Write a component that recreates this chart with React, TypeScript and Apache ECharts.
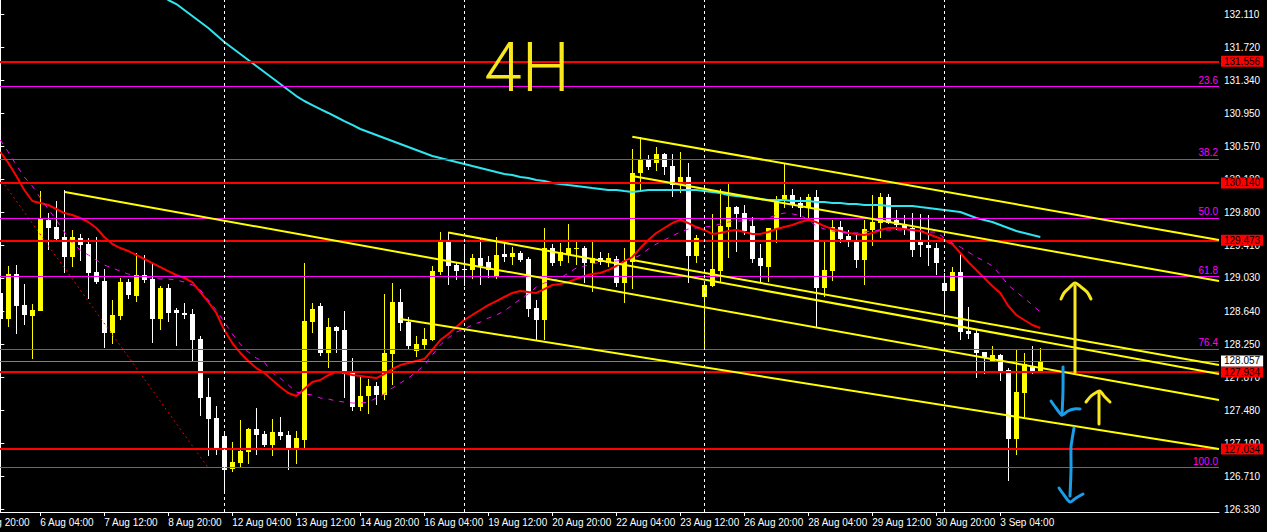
import React, { useEffect, useRef } from "react";
import * as echarts from "echarts";

// ---- candle data (H4 bars, index 0 = 5 Aug 08:00) ----
const opens = [
  128.857, 128.553, 129.075, 128.714, 128.585, 128.647, 129.707, 129.625, 129.508, 129.278,
  129.493, 129.426, 129.099, 128.993, 128.39, 128.588, 128.982, 128.822, 129.064, 129.017,
  128.553, 128.912, 128.655, 128.62, 128.608, 128.316, 127.638, 127.393, 127.183, 126.797,
  126.867, 126.999, 127.264, 127.206, 127.078, 127.226, 127.191, 127.019, 127.136, 128.518,
  128.702, 128.156, 128.453, 128.421, 127.927, 127.525, 127.65, 127.767, 127.662, 128.141,
  128.749, 128.515, 128.18, 128.246, 128.304, 129.102, 129.45, 129.18, 129.13, 129.122,
  129.262, 129.215, 129.052, 129.306, 129.278, 129.325, 129.251, 128.675, 128.538, 129.376,
  129.231, 129.298, 129.368, 129.376, 129.201, 129.259, 129.204, 129.247, 128.967, 129.219,
  130.259, 130.408, 130.376, 130.478, 130.338, 130.116, 130.206, 129.286, 128.81, 128.935,
  129.114, 129.628, 129.855, 129.785, 129.636, 129.262, 129.161, 129.605, 129.932, 129.999,
  129.902, 129.843, 129.972, 128.916, 129.114, 129.628, 129.52, 129.453, 129.239, 129.59,
  129.675, 129.972, 129.707, 129.66, 129.61, 129.473, 129.415, 129.376, 128.967, 128.88,
  129.095, 128.413, 128.39, 128.164, 128.059, 128.129, 127.954, 127.144, 127.689, 127.992,
  127.934,
];
const closes = [
  128.55, 129.075, 128.702, 128.597, 128.655, 129.718, 129.617, 129.485, 129.278, 129.508,
  129.415, 129.091, 128.985, 128.39, 128.597, 128.982, 128.827, 129.06, 129.009, 128.553,
  128.912, 128.624, 128.616, 128.6, 128.308, 127.63, 127.385, 127.034, 126.786, 126.883,
  127.007, 127.264, 127.194, 127.078, 127.226, 127.183, 127.034, 127.159, 128.526, 128.667,
  128.156, 128.453, 128.413, 127.907, 127.525, 127.65, 127.767, 127.662, 128.149, 128.749,
  128.507, 128.234, 128.258, 128.32, 129.11, 129.45, 129.169, 129.11, 129.122, 129.262,
  129.169, 129.122, 129.298, 129.271, 129.325, 129.239, 128.67, 128.538, 129.376, 129.201,
  129.329, 129.376, 129.379, 129.201, 129.259, 129.219, 129.262, 128.97, 129.227, 130.259,
  130.408, 130.329, 130.478, 130.329, 130.116, 130.206, 129.286, 129.493, 128.947, 129.13,
  129.636, 129.855, 129.777, 129.582, 129.254, 129.173, 129.613, 129.94, 129.999, 129.882,
  129.843, 129.979, 128.916, 129.122, 129.621, 129.485, 129.453, 129.239, 129.598, 129.687,
  129.972, 129.675, 129.648, 129.598, 129.356, 129.415, 129.376, 129.208, 128.88, 129.099,
  128.401, 128.374, 128.156, 128.098, 128.129, 127.946, 127.144, 127.7, 128.024, 127.915,
  128.057,
];
const highs = [
  129.005, 129.169, 129.18, 128.958, 128.725, 130.045, 129.788, 129.932, 130.057, 129.59,
  129.543, 129.5, 129.504, 129.13, 128.772, 129.032, 129.017, 129.317, 129.294, 129.189,
  128.935, 128.958, 128.678, 128.733, 128.67, 128.351, 127.86, 127.533, 127.241, 127.117,
  127.37, 127.28, 127.513, 127.241, 127.381, 127.401, 127.245, 127.245, 129.204, 128.737,
  128.733, 128.558, 128.468, 128.643, 128.094, 127.876, 127.845, 127.817, 128.842, 128.967,
  128.897, 128.57, 128.351, 128.441, 129.169, 129.566, 129.563, 129.208, 129.426, 129.309,
  129.493, 129.286, 129.512, 129.461, 129.388, 129.344, 129.271, 128.772, 129.61, 129.426,
  129.441, 129.66, 129.473, 129.403, 129.453, 129.336, 129.325, 129.286, 129.383, 130.536,
  130.68, 130.466, 130.563, 130.489, 130.478, 130.498, 130.369, 129.531, 128.982, 129.777,
  130.065, 130.142, 129.87, 129.882, 129.738, 129.426, 129.617, 129.987, 130.369, 130.065,
  129.979, 130.01, 130.057, 129.45, 129.707, 129.699, 129.59, 129.543, 129.707, 129.999,
  130.018, 130.01, 129.823, 129.765, 129.785, 129.777, 129.765, 129.434, 129.084, 129.161,
  129.309, 128.694, 128.429, 128.168, 128.234, 128.141, 127.974, 128.196, 128.149, 128.234,
  128.208,
];
const lows = [
  128.153, 128.46, 128.374, 128.48, 128.083, 128.643, 129.356, 129.453, 129.091, 129.161,
  129.231, 128.78, 128.958, 128.208, 128.257, 128.538, 128.78, 128.745, 128.967, 128.266,
  128.421, 128.518, 128.238, 128.546, 128.059, 127.42, 126.949, 126.961, 126.505, 126.766,
  126.817, 126.859, 126.961, 127.054, 126.949, 127.136, 126.786, 126.856, 127.043, 128.39,
  128.118, 127.974, 128.149, 127.63, 127.478, 127.478, 127.44, 127.545, 127.603, 127.779,
  128.413, 128.188, 128.109, 128.188, 128.296, 129.064, 128.947, 129.005, 128.935, 129.017,
  128.947, 129.029, 129.017, 129.216, 129.18, 129.216, 128.577, 128.304, 128.304, 129.169,
  129.169, 129.201, 129.18, 128.967, 128.869, 129.18, 129.157, 128.927, 128.74, 128.897,
  130.049, 130.291, 130.283, 130.232, 129.979, 130.018, 128.974, 129.201, 128.188, 128.927,
  128.986, 129.266, 129.336, 129.531, 129.208, 128.986, 128.986, 129.441, 129.843, 129.843,
  129.745, 129.726, 128.46, 128.81, 128.997, 129.441, 129.395, 129.142, 128.947, 129.403,
  129.493, 129.66, 129.59, 129.531, 129.278, 129.278, 129.169, 129.064, 128.608, 128.877,
  128.304, 128.316, 127.857, 127.904, 128.051, 127.829, 126.661, 126.961, 127.408, 127.907,
  127.915,
];

// ---- indicators ----
const redMA = [
  130.501, 130.373, 130.221, 130.057, 129.929, 129.905, 129.882, 129.835, 129.788, 129.765,
  129.73, 129.683, 129.613, 129.508, 129.426, 129.379, 129.344, 129.298, 129.251, 129.204,
  129.157, 129.11, 129.064, 129.029, 128.982, 128.865, 128.749, 128.62, 128.421, 128.269,
  128.153, 128.059, 127.977, 127.919, 127.837, 127.755, 127.685, 127.65, 127.732, 127.814,
  127.837, 127.895, 127.931, 127.919, 127.895, 127.884, 127.872, 127.86, 127.907, 127.966,
  128.012, 128.036, 128.059, 128.082, 128.188, 128.304, 128.375, 128.456, 128.538, 128.597,
  128.655, 128.713, 128.76, 128.807, 128.854, 128.877, 128.865, 128.854, 128.9, 128.947,
  128.959, 128.982, 129.017, 129.052, 129.075, 129.087, 129.122, 129.169, 129.227, 129.274,
  129.379, 129.473, 129.555, 129.613, 129.671, 129.707, 129.671, 129.625, 129.59, 129.543,
  129.555, 129.578, 129.59, 129.566, 129.543, 129.543, 129.566, 129.601, 129.625, 129.648,
  129.683, 129.707, 129.683, 129.636, 129.601, 129.578, 129.555, 129.543, 129.531, 129.555,
  129.59, 129.613, 129.613, 129.601, 129.59, 129.578, 129.543, 129.508, 129.473, 129.426,
  129.321, 129.216, 129.122, 129.029, 128.935, 128.854, 128.702, 128.597, 128.538, 128.48,
  128.445,
];
const magentaMA = [
  130.641, 130.501, 130.349, 130.209, 130.104, 129.964, 129.835, 129.707, 129.566, 129.438,
  129.356, 129.298, 129.239, 129.181, 129.146, 129.11, 129.075, 129.052, 129.04, 129.029,
  129.017, 129.017, 129.005, 128.982, 128.947, 128.889, 128.772, 128.655, 128.515, 128.375,
  128.258, 128.164, 128.094, 128.047, 127.919, 127.86, 127.779, 127.697, 127.674, 127.662,
  127.627, 127.615, 127.592, 127.58, 127.568, 127.568, 127.58, 127.627, 127.674, 127.744,
  127.802, 127.86, 127.931, 128.012, 128.129, 128.246, 128.328, 128.398, 128.433, 128.48,
  128.515, 128.561, 128.597, 128.643, 128.713, 128.784, 128.842, 128.924, 128.97, 128.994,
  129.029, 129.087, 129.146, 129.169, 129.192, 129.216, 129.227, 129.227, 129.239, 129.251,
  129.298, 129.368, 129.426, 129.473, 129.52, 129.566, 129.601, 129.613, 129.625, 129.636,
  129.66, 129.683, 129.695, 129.695, 129.707, 129.707, 129.73, 129.765, 129.788, 129.777,
  129.765, 129.707, 129.636, 129.601, 129.578, 129.566, 129.555, 129.555, 129.566, 129.578,
  129.59, 129.59, 129.59, 129.59, 129.59, 129.578, 129.566, 129.566, 129.496, 129.438,
  129.391, 129.333, 129.274, 129.227, 129.169, 129.064, 128.947, 128.865, 128.795, 128.713,
  128.632,
];
const cyanStart = 20;
const cyanMA = [
  132.347,
  132.277, 132.23, 132.16, 132.09, 132.02, 131.95, 131.868, 131.786, 131.716,
  131.646, 131.576, 131.506, 131.436, 131.366, 131.296, 131.225, 131.155, 131.097, 131.05,
  131.003, 130.957, 130.91, 130.863, 130.817, 130.77, 130.735, 130.7, 130.665, 130.63,
  130.595, 130.559, 130.524, 130.489, 130.454, 130.431, 130.408, 130.384, 130.361, 130.337,
  130.314, 130.291, 130.267, 130.244, 130.232, 130.209, 130.197, 130.174, 130.162, 130.139,
  130.127, 130.115, 130.104, 130.092, 130.08, 130.069, 130.057, 130.057, 130.045, 130.034,
  130.045, 130.057, 130.057, 130.057, 130.057, 130.057, 130.057, 130.057, 130.045, 130.034,
  130.022, 129.999, 129.987, 129.975, 129.964, 129.952, 129.94, 129.94, 129.94, 129.929,
  129.929, 129.929, 129.917, 129.917, 129.905, 129.905, 129.893, 129.893, 129.882, 129.882,
  129.882, 129.87, 129.87, 129.87, 129.87, 129.858, 129.847, 129.835, 129.823, 129.812,
  129.8, 129.765, 129.73, 129.707, 129.683, 129.648, 129.613, 129.578, 129.555, 129.531, 129.508,
];

// ---- levels & drawn objects ----
const redLevels = [131.556, 130.14, 129.473, 127.934, 127.034];
const fibLevels = [131.269, 130.419, 129.726, 129.052, 128.199, 126.821];
const fibNames = ["23.6", "38.2", "50.0", "61.8", "76.4", "100.0"];
const lastPrice = 128.057;
const weekStarts = [28, 58, 88, 118];
const fibDiagonal = [[-18.8, 132.632], [25.91, 126.821]];
const trendLines = [
  [[8.09, 130.034], [152.34, 127.603]],
  [[79, 130.68], [152.34, 129.473]],
  [[79, 130.22], [152.34, 128.994]],
  [[79, 129.239], [152.34, 128.012]],
  [[56, 129.56], [152.34, 127.907]],
  [[50, 128.55], [152.34, 127.031]],
];

// ---- axes ----
const xTickIdx = [-3, 5, 13, 21, 29, 37, 45, 53, 61, 69, 77, 85, 93, 101, 109, 117, 125];
const xTickLabels = [
  "2 Aug 20:00", "6 Aug 04:00", "7 Aug 12:00", "8 Aug 20:00", "12 Aug 04:00", "13 Aug 12:00",
  "14 Aug 20:00", "16 Aug 04:00", "19 Aug 12:00", "20 Aug 20:00", "22 Aug 04:00", "23 Aug 12:00",
  "26 Aug 20:00", "28 Aug 04:00", "29 Aug 12:00", "30 Aug 20:00", "3 Sep 04:00",
];
const yTicks = [
  132.11, 131.72, 131.34, 130.95, 130.57, 130.18, 129.8, 129.41, 129.03, 128.64, 128.25,
  127.87, 127.48, 127.1, 126.71, 126.33,
];
const yMin = 126.295;
const yMax = 132.277;
const xMin = -4;
const xMax = 152.3375;

const SHIFT = 32; // the chart div starts 32px left of the page so that bars before 0 sit off-screen
const FONT = "Tahoma, 'Liberation Sans', Arial, sans-serif";
const HAND_YELLOW = "#f8e71c";
const HAND_BLUE = "#1a9ee8";

export default function App() {
  const ref = useRef<HTMLDivElement>(null);

  useEffect(() => {
    if (!ref.current) return;
    const chart = echarts.init(ref.current, null, { renderer: "svg" });

    const candleData = opens.map((o, k) => [k, o, closes[k], lows[k], highs[k]]);
    const pairs = (arr: number[], start: number) => arr.map((v, k) => [start + k, v]);

    const markData: any[] = [];
    redLevels.forEach((v) =>
      markData.push({
        yAxis: v,
        lineStyle: { color: "#ff0000", width: 2, type: "solid" },
        label: {
          show: true,
          position: "end",
          formatter: v.toFixed(3),
          backgroundColor: "#ff0000",
          color: "#000",
          fontFamily: FONT,
          fontSize: 10,
          padding: [1, 3, 0, 3],
          distance: 2,
        },
      })
    );
    fibLevels.forEach((v, k) =>
      markData.push({
        yAxis: v,
        lineStyle: { color: "#ff00ff", width: 1, type: "solid" },
        label: {
          show: true,
          position: "insideEndTop",
          formatter: fibNames[k],
          color: "#ff00ff",
          fontFamily: FONT,
          fontSize: 10,
          distance: 1,
        },
      })
    );
    markData.push({
      yAxis: lastPrice,
      lineStyle: { color: "#808080", width: 1, type: "solid" },
      label: {
        show: true,
        position: "end",
        formatter: lastPrice.toFixed(3),
        backgroundColor: "#ffffff",
        color: "#000",
        fontFamily: FONT,
        fontSize: 10,
        padding: [1, 3, 0, 3],
        distance: 2,
      },
    });
    weekStarts.forEach((v) =>
      markData.push({
        xAxis: v,
        lineStyle: { color: "#ffffff", width: 1, type: [3, 3] },
        label: { show: false },
      })
    );

    const series: any[] = [
      {
        type: "custom",
        name: "candles",
        z: 2,
        clip: true,
        encode: { x: 0, y: [1, 2, 3, 4] },
        data: candleData,
        renderItem: (_p: any, api: any) => {
          const idx = api.value(0);
          const o = api.value(1);
          const c = api.value(2);
          const l = api.value(3);
          const h = api.value(4);
          const pO = api.coord([idx, o]);
          const pC = api.coord([idx, c]);
          const pL = api.coord([idx, l]);
          const pH = api.coord([idx, h]);
          const x = Math.round(pO[0]);
          const col = c >= o ? "#ffff00" : "#ffffff";
          const top = Math.round(Math.min(pO[1], pC[1]));
          const bot = Math.round(Math.max(pO[1], pC[1]));
          const yh = Math.round(pH[1]);
          const yl = Math.round(pL[1]);
          return {
            type: "group",
            children: [
              { type: "rect", shape: { x, y: yh, width: 1, height: Math.max(1, yl - yh) }, style: { fill: col } },
              { type: "rect", shape: { x: x - 2, y: top, width: 5, height: Math.max(1, bot - top) }, style: { fill: col } },
            ],
          };
        },
      },
      {
        type: "line",
        name: "fib",
        data: fibDiagonal,
        symbol: "none",
        silent: true,
        z: 3,
        lineStyle: { color: "#e00000", width: 1, type: [2, 3] },
        markLine: { silent: true, symbol: ["none", "none"], animation: false, data: markData },
      },
      {
        type: "line",
        name: "ma200",
        data: pairs(cyanMA, cyanStart),
        symbol: "none",
        silent: true,
        z: 4,
        lineStyle: { color: "#2ee6f0", width: 2 },
      },
      {
        type: "line",
        name: "ma20",
        data: pairs(redMA, 0),
        symbol: "none",
        silent: true,
        z: 4,
        lineStyle: { color: "#ff0000", width: 2 },
      },
      {
        type: "line",
        name: "ma20b",
        data: pairs(magentaMA, 0),
        symbol: "none",
        silent: true,
        z: 4,
        lineStyle: { color: "#ff00ff", width: 1, type: [5, 6] },
      },
      ...trendLines.map((t) => ({
        type: "line",
        data: t,
        symbol: "none",
        silent: true,
        z: 5,
        lineStyle: { color: "#ffff00", width: 2 },
      })),
    ];

    const hand = (points: number[][], color: string) => ({
      type: "polyline",
      z: 100,
      shape: { points: points.map((p) => [p[0] + SHIFT, p[1]]), smooth: 0.3 },
      style: { stroke: color, lineWidth: 3, fill: null, lineCap: "round", lineJoin: "round" },
    });

    chart.setOption({
      animation: false,
      backgroundColor: "#000000",
      textStyle: { fontFamily: FONT },
      grid: { left: 0.3, right: 48, top: 0, bottom: 20 },
      xAxis: {
        type: "value",
        min: xMin,
        max: xMax,
        position: "bottom",
        axisLine: { show: true, lineStyle: { color: "#ffffff", width: 1 } },
        axisTick: { show: true, customValues: xTickIdx, length: 4, lineStyle: { color: "#ffffff" } },
        axisLabel: {
          customValues: xTickIdx,
          formatter: (v: number) => {
            const k = xTickIdx.indexOf(Math.round(v));
            return k >= 0 ? xTickLabels[k] : "";
          },
          color: "#ffffff",
          fontSize: 10,
          fontFamily: FONT,
          align: "left",
          margin: 5,
        },
        splitLine: { show: false },
      },
      yAxis: {
        type: "value",
        position: "right",
        min: yMin,
        max: yMax,
        axisLine: { show: true, lineStyle: { color: "#ffffff", width: 1 } },
        axisTick: { show: true, customValues: yTicks, length: 4, lineStyle: { color: "#ffffff" } },
        axisLabel: {
          customValues: yTicks,
          formatter: (v: number) => v.toFixed(3),
          color: "#ffffff",
          fontSize: 10,
          fontFamily: FONT,
          margin: 5,
        },
        splitLine: { show: false },
      },
      series,
      graphic: [
        {
          type: "text",
          x: 484 + SHIFT,
          y: 34,
          z: 100,
          style: {
            text: "4H",
            fill: HAND_YELLOW,
            fontFamily: "Roboto",
            fontWeight: 300,
            fontSize: 68,
            verticalAlign: "top",
          },
        },
        hand([[1075, 372], [1075, 330], [1075, 286]], HAND_YELLOW),
        hand([[1061, 299], [1064, 293], [1069, 288], [1075, 283], [1081, 287], [1087, 292], [1091, 299]], HAND_YELLOW),
        hand([[1063, 367], [1063, 390], [1062, 415]], HAND_BLUE),
        hand([[1051, 401], [1056, 408], [1062, 415], [1068, 411], [1074, 409], [1080, 409]], HAND_BLUE),
        hand([[1099, 424], [1099, 393]], HAND_YELLOW),
        hand([[1086, 402], [1091, 396], [1097, 392], [1100, 391], [1104, 396], [1110, 402]], HAND_YELLOW),
        hand([[1074, 428], [1072, 440], [1071, 447], [1071, 470], [1070, 496]], HAND_BLUE),
        hand([[1059, 488], [1064, 495], [1070, 502], [1076, 498], [1083, 494]], HAND_BLUE),
      ],
    });

    return () => chart.dispose();
  }, []);

  return (
    <div
      ref={ref}
      style={{ position: "absolute", left: -SHIFT, top: 0, width: 1267 + SHIFT, height: 532 }}
    />
  );
}
